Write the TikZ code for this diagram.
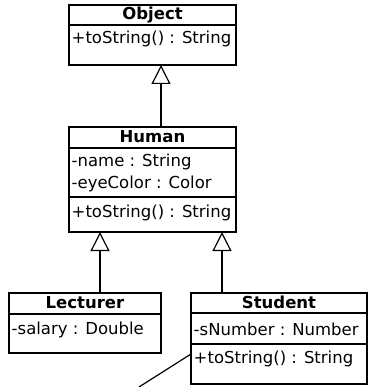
\documentclass[tikz,border=0pt]{standalone}
\usepackage{fontspec}
\setmainfont{DejaVu Sans}
\usetikzlibrary{arrows.meta}
\begin{document}
\begin{tikzpicture}[x=1pt,y=-1pt,
  box/.style={draw, line width=1.2pt, anchor=north west, inner sep=0pt, outer sep=0pt},
  cname/.style={font=\fontsize{16.5pt}{19pt}\selectfont\bfseries, anchor=base, inner sep=0pt},
  mem/.style={font=\fontsize{16.5pt}{19pt}\selectfont, anchor=base west, inner sep=0pt},
  inherit/.style={line width=1.2pt, -{Triangle[open, length=19pt, width=19pt, line width=1.2pt]}},
  noteline/.style={line width=1.2pt}
]
\useasboundingbox (0,0) rectangle (369,387);

% Object
\node[box, minimum width=167pt, minimum height=20pt] (objT) at (69,5) {};
\node[box, minimum width=167pt, minimum height=40pt] (objO) at (69,25) {};
\node[cname] (objN) at (152.5,20) {Object};
\node[mem] (objM1) at (71.5,44) {+toString() : String};

% Human
\node[box, minimum width=167pt, minimum height=21pt] (humT) at (69,127) {};
\node[box, minimum width=167pt, minimum height=49pt] (humA) at (69,148) {};
\node[box, minimum width=167pt, minimum height=35pt] (humO) at (69,197) {};
\node[cname] (humN) at (152.5,143) {Human};
\node[mem] (humA1) at (71.5,166.5) {-name : String};
\node[mem] (humA2) at (71.5,188) {-eyeColor : Color};
\node[mem] (humO1) at (71.5,217.5) {+toString() : String};

% Lecturer
\node[box, minimum width=152pt, minimum height=21pt] (lecT) at (9,293) {};
\node[box, minimum width=152pt, minimum height=39pt] (lecA) at (9,314) {};
\node[cname] (lecN) at (85,308.5) {Lecturer};
\node[mem] (lecA1) at (11.5,334) {-salary : Double};

% Student
\node[box, minimum width=176pt, minimum height=20pt] (stuT) at (191,293) {};
\node[box, minimum width=176pt, minimum height=31pt] (stuA) at (191,313) {};
\node[box, minimum width=176pt, minimum height=40pt] (stuO) at (191,344) {};
\node[cname] (stuN) at (279,308.5) {Student};
\node[mem] (stuA1) at (193.5,335.5) {-sNumber : Number};
\node[mem] (stuO1) at (193.5,363) {+toString() : String};

% Generalisations
\draw[inherit] (humT.north -| 161,0) -- (objO.south -| 161,0);
\draw[inherit] (lecT.north -| 100,0) -- (humO.south -| 100,0);
\draw[inherit] (stuT.north -| 222,0) -- (humO.south -| 222,0);

% note connector
\coordinate (noteEnd) at (139,387);
\draw[noteline] (stuO.west |- 0,354) -- (noteEnd);
\end{tikzpicture}
\end{document}
